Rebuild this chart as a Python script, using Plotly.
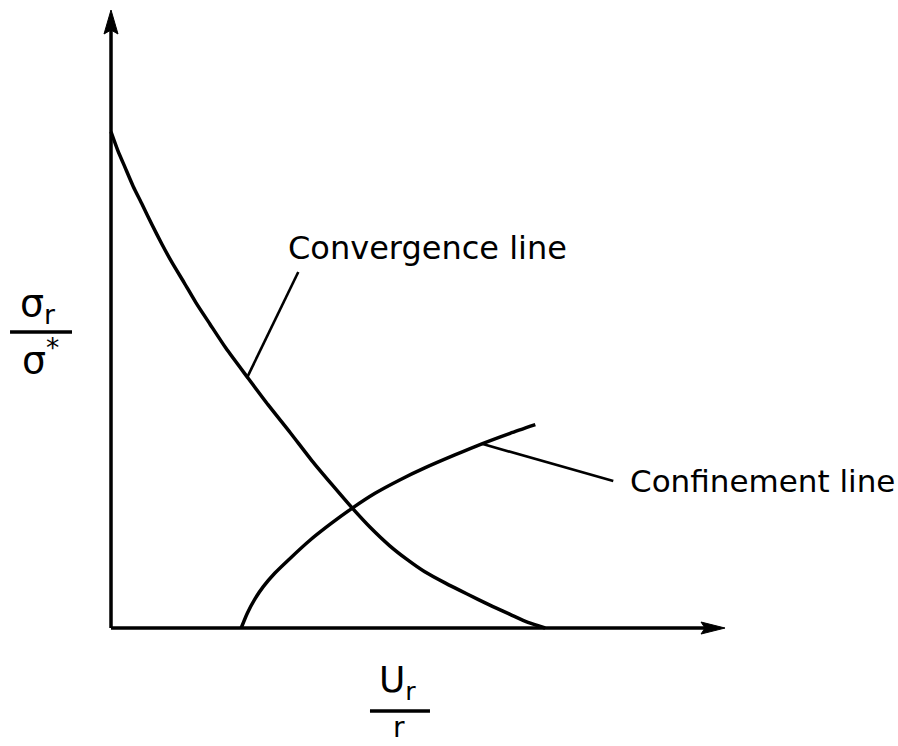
import plotly.graph_objects as go

# Convergence-confinement diagram: normalised radial stress vs. normalised wall displacement
conv_x = [0.0, 1.1, 2.3, 3.6, 5.1, 6.7, 8.3, 9.9, 11.9, 13.8, 16.1, 18.7, 22.2, 25.6,
          29.2, 32.7, 36.0, 39.3, 42.2, 45.4, 48.2, 51.1, 54.4, 58.0, 61.7, 65.0, 67.9, 70.7]
conv_y = [80.3, 77.3, 74.5, 71.5, 68.5, 65.2, 62.1, 59.2, 55.9, 52.7, 49.2, 45.3, 40.6, 36.1,
          31.6, 27.1, 23.2, 19.4, 16.3, 13.3, 11.1, 9.1, 7.3, 5.5, 3.7, 2.2, 0.9, 0.0]

conf_x = [21.2, 22.2, 23.5, 24.8, 26.7, 29.2, 32.4, 35.7, 39.3, 43.0, 47.1, 51.1, 56.0, 60.4, 65.0, 69.1]
conf_y = [0.0, 2.4, 4.8, 6.7, 8.9, 11.3, 14.2, 16.8, 19.4, 21.8, 24.0, 25.9, 28.0, 29.8, 31.5, 32.9]

# leader lines from the labels to the curves
conv_leader_x = [22.2, 30.5]
conv_leader_y = [40.6, 57.6]
conf_leader_x = [60.4, 81.8]
conf_leader_y = [29.8, 23.8]

x_axis_end = 100.0
y_axis_end = 100.0

W, H = 898, 746
ml, mr, mt, mb = 80, 140, 0, 100
x_range = [-5.05, 105.37]
y_range = [-2.91, 101.62]

BLACK = "#000000"
FONT = "DejaVu Sans"
CURVE = dict(color=BLACK, width=3.5, shape="spline", smoothing=0.6)

fig = go.Figure()
for xs, ys in [(conv_x, conv_y), (conf_x, conf_y)]:
    fig.add_trace(go.Scatter(x=xs, y=ys, mode="lines", line=CURVE,
                             hoverinfo="skip", showlegend=False))
for xs, ys in [(conv_leader_x, conv_leader_y), (conf_leader_x, conf_leader_y)]:
    fig.add_trace(go.Scatter(x=xs, y=ys, mode="lines", line=dict(color=BLACK, width=2.6),
                             hoverinfo="skip", showlegend=False))

shapes = [
    # axes
    dict(type="line", xref="x", yref="y", x0=0, y0=0, x1=0, y1=y_axis_end - 2,
         line=dict(color=BLACK, width=3.5)),
    dict(type="line", xref="x", yref="y", x0=0, y0=0, x1=x_axis_end - 2, y1=0,
         line=dict(color=BLACK, width=3.5)),
    # arrowheads, sized in pixels and anchored at the axis ends
    dict(type="path", xref="x", yref="y", xsizemode="pixel", ysizemode="pixel",
         xanchor=0, yanchor=y_axis_end,
         path="M 0 0 L -7 -24 L 0 -20 L 7 -24 Z",
         fillcolor=BLACK, line=dict(color=BLACK, width=1)),
    dict(type="path", xref="x", yref="y", xsizemode="pixel", ysizemode="pixel",
         xanchor=x_axis_end, yanchor=0,
         path="M 0 0 L -24 -6 L -20 0 L -24 6 Z",
         fillcolor=BLACK, line=dict(color=BLACK, width=1)),
    # fraction bars of the axis titles
    dict(type="line", xref="paper", yref="paper", x0=-0.1032, y0=0.4861, x1=-0.0118, y1=0.4861,
         line=dict(color=BLACK, width=3.5)),
    dict(type="line", xref="paper", yref="paper", x0=0.4277, y0=-0.1007, x1=0.5162, y1=-0.1007,
         line=dict(color=BLACK, width=3.5)),
]

annotations = [
    dict(xref="x", yref="y", x=51.5, y=61.5, text="Convergence line", showarrow=False,
         font=dict(family=FONT, size=32, color=BLACK), xanchor="center", yanchor="middle"),
    dict(xref="x", yref="y", x=84.2, y=23.8, text="Confinement line", showarrow=False,
         font=dict(family=FONT, size=31, color=BLACK), xanchor="left", yanchor="middle"),
    # y-axis title: sigma_r / sigma*
    dict(xref="paper", yref="paper", x=-0.062, y=0.527, text="σ<sub>r</sub>", showarrow=False,
         font=dict(family=FONT, size=38, color=BLACK), xanchor="center", yanchor="middle"),
    dict(xref="paper", yref="paper", x=-0.058, y=0.447, text="σ<sup>*</sup>", showarrow=False,
         font=dict(family=FONT, size=38, color=BLACK), xanchor="center", yanchor="middle"),
    # x-axis title: U_r / r
    dict(xref="paper", yref="paper", x=0.469, y=-0.056, text="U<sub>r</sub>", showarrow=False,
         font=dict(family=FONT, size=36, color=BLACK), xanchor="center", yanchor="middle"),
    dict(xref="paper", yref="paper", x=0.471, y=-0.1545, text="r", showarrow=False,
         font=dict(family=FONT, size=28, color=BLACK), xanchor="center", yanchor="bottom"),
]

fig.update_layout(
    width=W, height=H,
    margin=dict(l=ml, r=mr, t=mt, b=mb),
    paper_bgcolor="white", plot_bgcolor="white",
    xaxis=dict(visible=False, range=x_range, fixedrange=True),
    yaxis=dict(visible=False, range=y_range, fixedrange=True),
    shapes=shapes, annotations=annotations, showlegend=False,
)

fig.write_html("out.html", config={"displayModeBar": False})
